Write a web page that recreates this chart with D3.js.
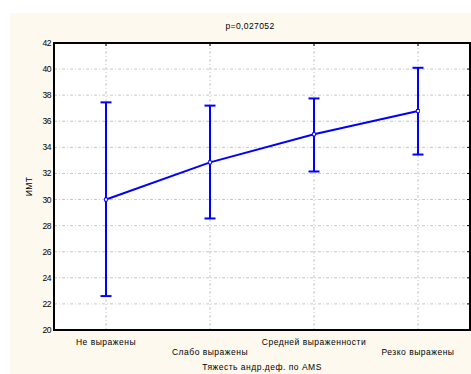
<!DOCTYPE html>
<html>
<head>
<meta charset="utf-8">
<script src="https://cdn.jsdelivr.net/npm/d3@7"></script>
<style>
  body { margin: 0; background: #fff; }
  svg { display: block; font-family: Arial, 'Liberation Sans', sans-serif; }
</style>
</head>
<body>
<svg id="chart" width="471" height="374"></svg>
<script>
const categories = ['Не выражены', 'Слабо выражены', 'Средней выраженности', 'Резко выражены']
const means = [30.0, 32.85, 35.0, 36.78]
const upper = [37.45, 37.2, 37.75, 40.1]
const lower = [22.6, 28.55, 32.15, 33.45]
const yTicks = [20, 22, 24, 26, 28, 30, 32, 34, 36, 38, 40, 42]

const svg = d3.select('#chart')
const margins = {top: 43, right: 1, bottom: 44, left: 54}
const width = 471 - margins.left - margins.right
const height = 374 - margins.top - margins.bottom

// cream panel behind everything
svg.append('rect')
  .attr('x', 10).attr('y', 13)
  .attr('width', 461).attr('height', 361)
  .attr('fill', '#fef9ee')

svg.append('text')
  .attr('x', 250).attr('y', 29)
  .attr('text-anchor', 'middle')
  .attr('font-size', 8.5)
  .attr('letter-spacing', 0.4)
  .text('p=0,027052')

const g = svg.append('g')
  .attr('transform', `translate(${margins.left}, ${margins.top})`)

const x = d3.scalePoint().domain(categories).range([0, width]).padding(0.5)
const y = d3.scaleLinear().domain([20, 42]).range([height, 0])

g.append('rect')
  .attr('width', width).attr('height', height)
  .attr('fill', '#fff')

// grid
g.selectAll('.hgrid')
  .data(yTicks.slice(1, -1))
  .enter().append('line')
  .attr('x1', 0).attr('x2', width)
  .attr('y1', (d) => y(d)).attr('y2', (d) => y(d))
  .attr('stroke', '#c8c8c8')
  .attr('stroke-dasharray', '3,2,1,2')
g.selectAll('.vgrid')
  .data(categories)
  .enter().append('line')
  .attr('x1', (d) => x(d)).attr('x2', (d) => x(d))
  .attr('y1', 0).attr('y2', height)
  .attr('stroke', '#c8c8c8')
  .attr('stroke-dasharray', '3,2,1,2')

// inner ticks on right and top
g.selectAll('.rtick')
  .data(yTicks)
  .enter().append('line')
  .attr('x1', width - 3).attr('x2', width)
  .attr('y1', (d) => y(d)).attr('y2', (d) => y(d))
  .attr('stroke', '#000')
g.selectAll('.ttick')
  .data(categories)
  .enter().append('line')
  .attr('x1', (d) => x(d)).attr('x2', (d) => x(d))
  .attr('y1', 0).attr('y2', 3)
  .attr('stroke', '#000')

// y labels
g.selectAll('.ylab')
  .data(yTicks)
  .enter().append('text')
  .attr('x', -3)
  .attr('y', (d) => y(d))
  .attr('dy', '0.35em')
  .attr('text-anchor', 'end')
  .attr('font-size', 8.5)
  .attr('letter-spacing', -0.5)
  .text((d) => d)

// x labels, staggered
g.selectAll('.xlab')
  .data(categories)
  .enter().append('text')
  .attr('x', (d) => x(d))
  .attr('y', (d, i) => height + (i % 2 ? 25 : 15))
  .attr('text-anchor', 'middle')
  .attr('font-size', 8.5)
  .attr('letter-spacing', 0.5)
  .text((d) => d)

svg.append('text')
  .attr('x', 262).attr('y', 370)
  .attr('text-anchor', 'middle')
  .attr('font-size', 8.5)
  .attr('letter-spacing', 0.5)
  .text('Тяжесть андр.деф. по AMS')

svg.append('text')
  .attr('transform', `translate(32, ${margins.top + height / 2}) rotate(-90)`)
  .attr('text-anchor', 'middle')
  .attr('font-size', 8.5)
  .attr('letter-spacing', 0.3)
  .text('ИМТ')

// error bars
const blue = '#0000ff'
const capW = 5.5
categories.forEach((c, i) => {
  const cx = x(c)
  g.append('line')
    .attr('x1', cx).attr('x2', cx)
    .attr('y1', y(upper[i])).attr('y2', y(lower[i]))
    .attr('stroke', blue).attr('stroke-width', 2)
  ;[upper[i], lower[i]].forEach((v) => {
    g.append('line')
      .attr('x1', cx - capW).attr('x2', cx + capW)
      .attr('y1', y(v)).attr('y2', y(v))
      .attr('stroke', blue).attr('stroke-width', 2)
  })
})

const line = d3.line()
  .x((d, i) => x(categories[i]))
  .y((d) => y(d))
g.append('path')
  .datum(means)
  .attr('d', line)
  .attr('fill', 'none')
  .attr('stroke', blue)
  .attr('stroke-width', 2)

g.selectAll('.pt')
  .data(means)
  .enter().append('rect')
  .attr('x', (d, i) => x(categories[i]) - 1.5)
  .attr('y', (d) => y(d) - 1.5)
  .attr('width', 3).attr('height', 3)
  .attr('fill', '#fff')
  .attr('stroke', blue)
  .attr('stroke-width', 0.8)

// frame
g.append('rect')
  .attr('width', width).attr('height', height)
  .attr('fill', 'none')
  .attr('stroke', '#000')
  .attr('stroke-width', 2)
</script>
</body>
</html>
